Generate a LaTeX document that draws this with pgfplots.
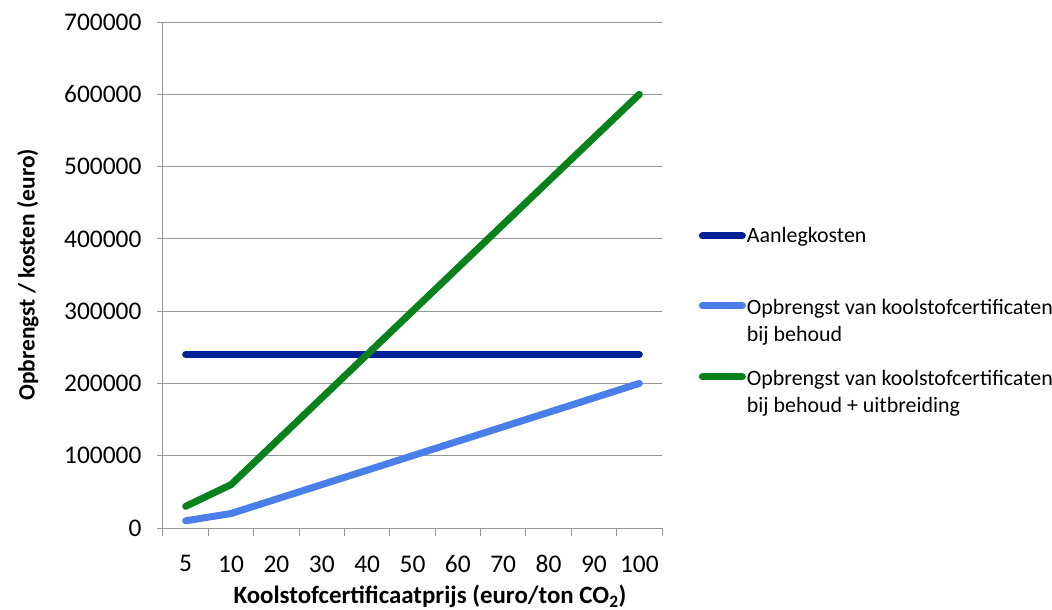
\documentclass[border=0pt]{standalone}
\usepackage{fontspec}
\setmainfont{Carlito}
\usepackage{pgfplots}
\pgfplotsset{compat=1.18}
\usetikzlibrary{calc}
\definecolor{cdark}{RGB}{4,32,150}
\definecolor{clight}{RGB}{74,126,232}
\definecolor{cgreen}{RGB}{10,130,28}
\definecolor{cgrid}{RGB}{150,150,150}
\begin{document}
\begin{tikzpicture}
\begin{axis}[
  name=ax,
  scale only axis,
  width=499bp, height=506bp,
  xmin=-0.5, xmax=10.5,
  ymin=0, ymax=700000,
  ytick={0,100000,...,700000},
  xtick={0,...,10},
  xticklabels={5,10,20,30,40,50,60,70,80,90,100},
  minor xtick={-0.5,0.5,...,10.5},
  major x tick style={draw=none},
  minor tick length=8bp,
  major tick length=6bp,
  tick align=outside,
  tick style={cgrid, line width=1pt},
  axis x line*=bottom,
  axis y line*=left,
  axis line style={cgrid, line width=1pt},
  ymajorgrids,
  major grid style={cgrid, line width=1pt},
  /pgf/number format/assume math mode=true,
  yticklabel={\pgfmathprintnumber[fixed,1000 sep={},assume math mode=true]{\tick}},
  scaled y ticks=false,
  ticklabel style={font=\fontsize{25.5}{30}\selectfont},
  xticklabel style={yshift=-18bp},
  yticklabel style={xshift=-12bp},
  xlabel={\textbf{Koolstofcertificaatprijs (euro/ton CO\textsubscript{2})}},
  ylabel={\textbf{Opbrengst / kosten (euro)}},
  xlabel style={font=\fontsize{25}{30}\selectfont, at={(rel axis cs:0.535,-0.1354)}, anchor=center},
  ylabel style={font=\fontsize{23.5}{28}\selectfont, at={(rel axis cs:-0.2705,0.5)}, anchor=center},
  legend style={draw=none, fill=none, at={(1.0675,0.602)}, anchor=north west,
    font=\fontsize{22}{27}\selectfont, row sep=47bp,
    nodes={inner xsep=1bp},
    /tikz/every even column/.append style={column sep=0bp}},
  legend cell align=left,
  legend image code/.code={\draw[#1, line width=7bp, line cap=round] (0bp,0bp) -- (40bp,0bp);},
  every axis plot/.append style={line width=7bp, line cap=round, line join=round},
  clip=false,
]
\addplot[cdark] coordinates {(0,240000) (1,240000) (2,240000) (3,240000) (4,240000) (5,240000) (6,240000) (7,240000) (8,240000) (9,240000) (10,240000)};
\addlegendentry{Aanlegkosten}
\addplot[clight] coordinates {(0,10000) (1,20000) (2,40000) (3,60000) (4,80000) (5,100000) (6,120000) (7,140000) (8,160000) (9,180000) (10,200000)};
\addlegendentry{\begin{tabular}[t]{@{}l@{}}Opbrengst van koolstofcertificaten\\bij behoud\end{tabular}}
\addplot[cgreen] coordinates {(0,30000) (1,60000) (2,120000) (3,180000) (4,240000) (5,300000) (6,360000) (7,420000) (8,480000) (9,540000) (10,600000)};
\addlegendentry{\begin{tabular}[t]{@{}l@{}}Opbrengst van koolstofcertificaten\\bij behoud + uitbreiding\end{tabular}}
\end{axis}
\pgfresetboundingbox
\path ($(ax.south west)+(-163bp,-82bp)$) rectangle ($(ax.south west)+(889bp,528bp)$);
\end{tikzpicture}
\end{document}
